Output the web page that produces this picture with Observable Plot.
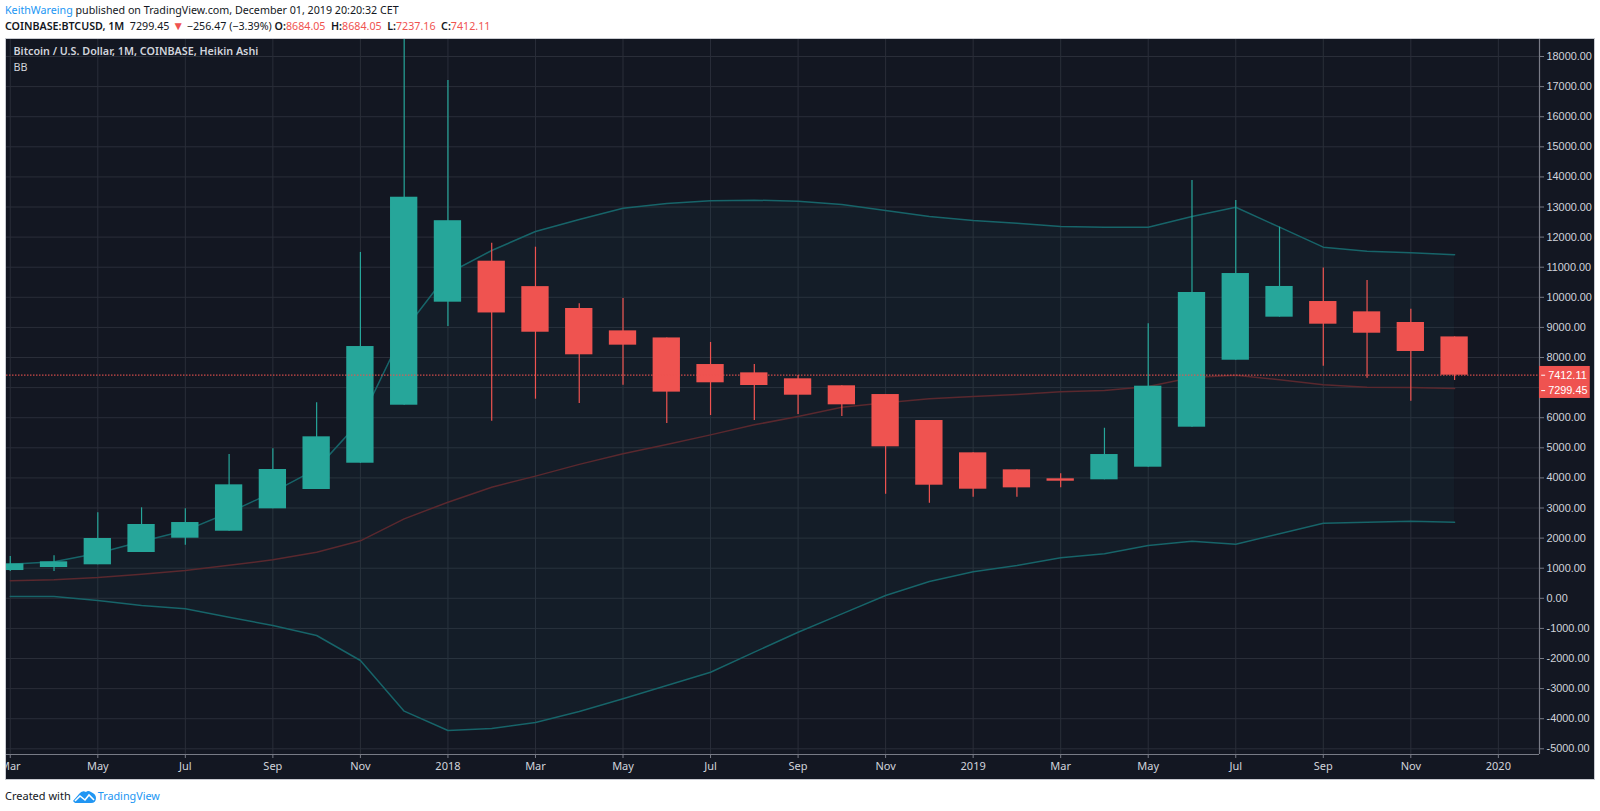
<!DOCTYPE html>
<html>
<head>
<meta charset="utf-8">
<script src="https://cdn.jsdelivr.net/npm/d3@7"></script>
<script src="https://cdn.jsdelivr.net/npm/@observablehq/plot@0.6"></script>
<style>
html,body{margin:0;padding:0;background:#fff;width:1600px;height:811px;overflow:hidden;font-family:"Noto Sans",sans-serif;color:#131722}
#head{height:38px;box-sizing:border-box;padding:3px 0 0 5px;font-size:10.7px;line-height:15px;white-space:nowrap}
#head .u,#foot .u{color:#2196f3}
#head .r{color:#ef5350}
#head .t{color:#ef5350;font-size:12px}
#head b{font-weight:600}
#chart{margin-left:5px;width:1590px;height:742px;box-sizing:border-box;border:1px solid #c9cbd1}
#chart svg{display:block;overflow:hidden}
#foot{padding:8px 0 0 5px;font-size:11px;line-height:16px;display:flex;align-items:center;white-space:nowrap}
#foot svg{margin:0 2px 0 2px}
#foot .u{font-size:10.8px}
</style>
</head>
<body>
<div id="head">
<div><span class="u">KeithWareing</span> published on TradingView.com, December 01, 2019 20:20:32 CET</div>
<div><b>COINBASE:BTCUSD, 1M</b>&nbsp; 7299.45 <span class="t">▼</span> −256.47 (−3.39%) <b>O:</b><span class="r">8684.05</span>&nbsp; <b>H:</b><span class="r">8684.05</span>&nbsp; <b>L:</b><span class="r">7237.16</span>&nbsp; <b>C:</b><span class="r">7412.11</span></div>
</div>
<div id="chart"></div>
<div id="foot">Created with
<svg width="23" height="13" viewBox="0 0 23 13"><path d="M0 11 L6 4 Q9 0 13 2 Q15 0 18 2 Q23 4 23 8 Q23 13 18 13 L2 13 Z" fill="#2196f3"/><path d="M2 11 L7 6 L12 10 L16 5 L21 10" fill="none" stroke="#fff" stroke-width="1.6"/></svg>
<span class="u">TradingView</span></div>
<script>
const months = ["Mar 2017","Apr 2017","May 2017","Jun 2017","Jul 2017","Aug 2017","Sep 2017","Oct 2017","Nov 2017","Dec 2017","Jan 2018","Feb 2018","Mar 2018","Apr 2018","May 2018","Jun 2018","Jul 2018","Aug 2018","Sep 2018","Oct 2018","Nov 2018","Dec 2018","Jan 2019","Feb 2019","Mar 2019","Apr 2019","May 2019","Jun 2019","Jul 2019","Aug 2019","Sep 2019","Oct 2019","Nov 2019","Dec 2019"];
const open  = [923,1023,1113,1522,1997,2229,2973,3615,4488,6415,9838,11200,10355,9628,8885,8650,7767,7490,7292,7060,6770,5907,4833,4268,3970,3937,4356,5685,7910,9340,9860,9517,9163,8684];
const close = [1146,1212,1987,2452,2518,3770,4279,5365,8365,13325,12545,9480,8840,8090,8410,6850,7160,7070,6748,6428,5033,3758,3625,3670,3890,4777,7047,10160,10790,10360,9107,8807,8200,7412];
const high  = [1389,1412,2840,3007,2973,4777,4967,6495,11490,19900,17200,11800,11665,9785,9960,8650,8500,7767,7400,7060,6770,5907,4833,4268,4135,5650,9120,13880,13215,12330,10970,10560,9605,8684];
const low   = [890,890,1113,1522,1764,2229,2973,3615,4488,6415,9030,5885,6615,6470,7080,5805,6073,5907,6106,6040,3460,3160,3360,3360,3670,3937,4356,5685,7910,9340,7710,7313,6548,7237];
const upper = [1134,1212,1500,1887,2250,2850,3525,4300,5900,8900,10790,11555,12186,12585,12960,13120,13205,13227,13190,13083,12884,12685,12552,12462,12352,12330,12330,12685,12993,12330,11665,11530,11478,11411];
const basis = [580,615,690,800,923,1100,1278,1532,1910,2640,3193,3690,4060,4450,4800,5110,5430,5763,6040,6350,6495,6628,6704,6770,6860,6900,7036,7335,7412,7260,7093,7013,7003,6970];
const lower = [60,60,-73,-240,-350,-627,-903,-1236,-2066,-3750,-4392,-4325,-4126,-3761,-3340,-2897,-2455,-1790,-1126,-516,93,558,880,1090,1345,1478,1754,1897,1797,2143,2495,2528,2561,2528];
const tickMonths = [0,2,4,6,8,10,12,14,16,18,20,22,24,26,28,30,32,34];
const tickLabels = ["Mar","May","Jul","Sep","Nov","2018","Mar","May","Jul","Sep","Nov","2019","Mar","May","Jul","Sep","Nov","2020"];
const priceTicks = d3.range(-5000, 18001, 1000);
const lastClose = 7412.11, lastPrice = 7299.45;

const idx = months.map((_, i) => i);
const UP = "#26a69a", DOWN = "#ef5350", BG = "#131722", GRID = "#2a2e39", BAND = "#176469", MID = "#5a282e", AXIS="#787b86", LABEL="#d1d4dc";
const col = i => close[i] >= open[i] ? UP : DOWN;
const half = 0.312;
const yFont = {fontFamily:"Liberation Sans, Arial, sans-serif", fontSize:10.9};
const yMin = -5189, yMax = 18565, xMin = -0.086, xMax = 34.94;

const plot = Plot.plot({
  width: 1588, height: 740,
  marginLeft: 0, marginRight: 55, marginTop: 0, marginBottom: 25,
  style: {background: BG, color: LABEL, overflow: "hidden"},
  x: {type:"linear", domain:[xMin, xMax], label:null},
  y: {type:"linear", domain:[yMin, yMax], label:null},
  marks: [
    Plot.ruleY(priceTicks, {stroke: GRID, strokeWidth: 1}),
    Plot.ruleX(tickMonths, {stroke: GRID, strokeWidth: 1}),
    Plot.areaY(idx, {x: i => i, y1: i => lower[i], y2: i => upper[i], fill: UP, fillOpacity: 0.05}),
    Plot.lineY(idx, {x: i => i, y: i => upper[i], stroke: BAND, strokeWidth: 1.5}),
    Plot.lineY(idx, {x: i => i, y: i => basis[i], stroke: MID, strokeWidth: 1.5}),
    Plot.lineY(idx, {x: i => i, y: i => lower[i], stroke: BAND, strokeWidth: 1.5}),
    Plot.ruleX(idx, {x: i => i, y1: i => low[i], y2: i => high[i], stroke: col, strokeWidth: 1.2, clip: true}),
    Plot.rect(idx, {x1: i => i - half, x2: i => i + half, y1: i => open[i], y2: i => close[i], fill: col, clip: true}),
    Plot.ruleY([lastClose], {stroke: DOWN, strokeWidth: 1.2, strokeDasharray: "1.5,1.5", strokeOpacity: 0.85}),
    Plot.axisX({anchor:"bottom", ticks: tickMonths, tickFormat: d => tickLabels[tickMonths.indexOf(d)], tickSize: 4, tickPadding: 4, stroke: AXIS, fill: LABEL, fontFamily: "Noto Sans", fontSize: 11, label: null}),
    Plot.ruleY([yMin], {stroke: AXIS, strokeWidth: 1.2}),
    Plot.axisY({anchor:"right", ticks: priceTicks, tickFormat: d => d.toFixed(2), tickSize: 4, tickPadding: 3, stroke: AXIS, fill: LABEL, label: null, ...yFont}),
    Plot.ruleX([xMax], {stroke: AXIS, strokeWidth: 1.2, y1: yMax, y2: yMin}),
    Plot.rect([0], {x1: xMax, x2: 36.1, y1: lastClose + 290, y2: lastPrice - 660, fill: DOWN}),
    Plot.ruleY([lastClose], {x1: 34.99, x2: 35.08, stroke: "#fff"}),
    Plot.ruleY([lastPrice], {x1: 34.99, x2: 35.08, stroke: "#fff", dy: 12}),
    Plot.text([lastClose], {x: 35, y: d => d, text: d => d.toFixed(2), textAnchor: "start", dx: 6, fill: "#fff", ...yFont}),
    Plot.text([lastPrice], {x: 35, y: d => d, text: d => d.toFixed(2), textAnchor: "start", dx: 6, dy: 12, fill: "#fff", ...yFont}),
    Plot.text(["Bitcoin / U.S. Dollar, 1M, COINBASE, Heikin Ashi"], {frameAnchor:"top-left", dx: 7, dy: 8, fill: LABEL, fontFamily:"Noto Sans", fontSize: 10.75, fontWeight: 600, textAnchor:"start"}),
    Plot.text(["BB"], {frameAnchor:"top-left", dx: 7, dy: 24, fill: LABEL, fontFamily:"Noto Sans", fontSize: 10.75, textAnchor:"start"})
  ]
});
document.getElementById("chart").append(plot);
</script>
</body>
</html>
